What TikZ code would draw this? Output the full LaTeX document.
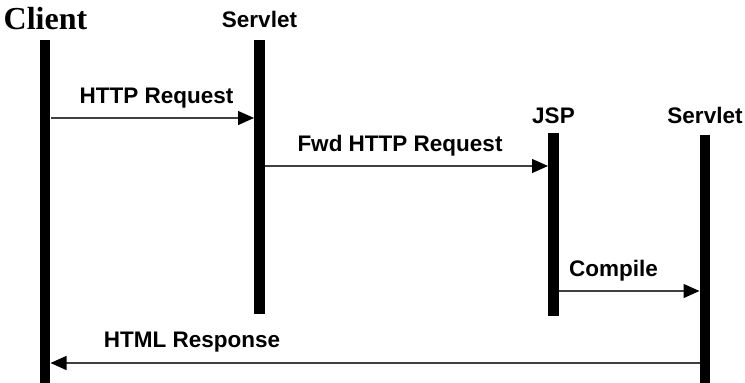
\documentclass[tikz,border=0pt]{standalone}
\usepackage{fontspec}
\setmainfont{Liberation Serif}
\setsansfont{Liberation Sans}
\usetikzlibrary{arrows.meta}

\begin{document}
\begin{tikzpicture}[x=1pt,y=-1pt,
  lifeline/.style={line width=10.5pt},
  msgarrow/.style={-{Triangle[length=16pt,width=14pt,fill=black,color=black]}, line width=1.3pt, draw=black!75},
  actor/.style={font=\sffamily\bfseries\fontsize{22.5}{26}\selectfont, inner sep=0pt},
  msglabel/.style={font=\sffamily\bfseries\fontsize{22.5}{26}\selectfont, inner sep=0pt}]
  \useasboundingbox (0,0) rectangle (745,383);

  % lifeline heads
  \node[font=\rmfamily\bfseries\fontsize{32}{36}\selectfont, inner sep=0pt] (client) at (45.5,19) {Client};
  \node[actor] (servlet) at (259.5,19) {Servlet};
  \node[actor] (jsp) at (553.5,116) {JSP};
  \node[actor] (servletb) at (705,115) {Servlet};

  % lifelines
  \foreach \name/\x/\ya/\yb in {cl/45/40/383, sv/259.5/40/314, js/553.5/133/316, sb/705/135/383}
  {
    \coordinate (\name top) at (\x,\ya);
    \coordinate (\name bot) at (\x,\yb);
    \draw[lifeline] (\name top) -- (\name bot);
  }

  % message ends
  \coordinate (req a) at (50.5,118);   \coordinate (req b) at (254,118);
  \coordinate (fwd a) at (265,166);    \coordinate (fwd b) at (548,166);
  \coordinate (cmp a) at (559,291);    \coordinate (cmp b) at (699.5,291);
  \coordinate (rsp a) at (699.5,363);  \coordinate (rsp b) at (50.5,363);

  % messages
  \draw[msgarrow] (req a) -- (req b);
  \draw[msgarrow] (fwd a) -- (fwd b);
  \draw[msgarrow] (cmp a) -- (cmp b);
  \draw[msgarrow] (rsp a) -- (rsp b);

  \node[msglabel] (reqlbl) at (156.5,98) {HTTP Request};
  \node[msglabel] (fwdlbl) at (400,146) {Fwd HTTP Request};
  \node[msglabel] (cmplbl) at (613.5,271) {Compile};
  \node[msglabel] (rsplbl) at (192,342) {HTML Response};
\end{tikzpicture}
\end{document}
